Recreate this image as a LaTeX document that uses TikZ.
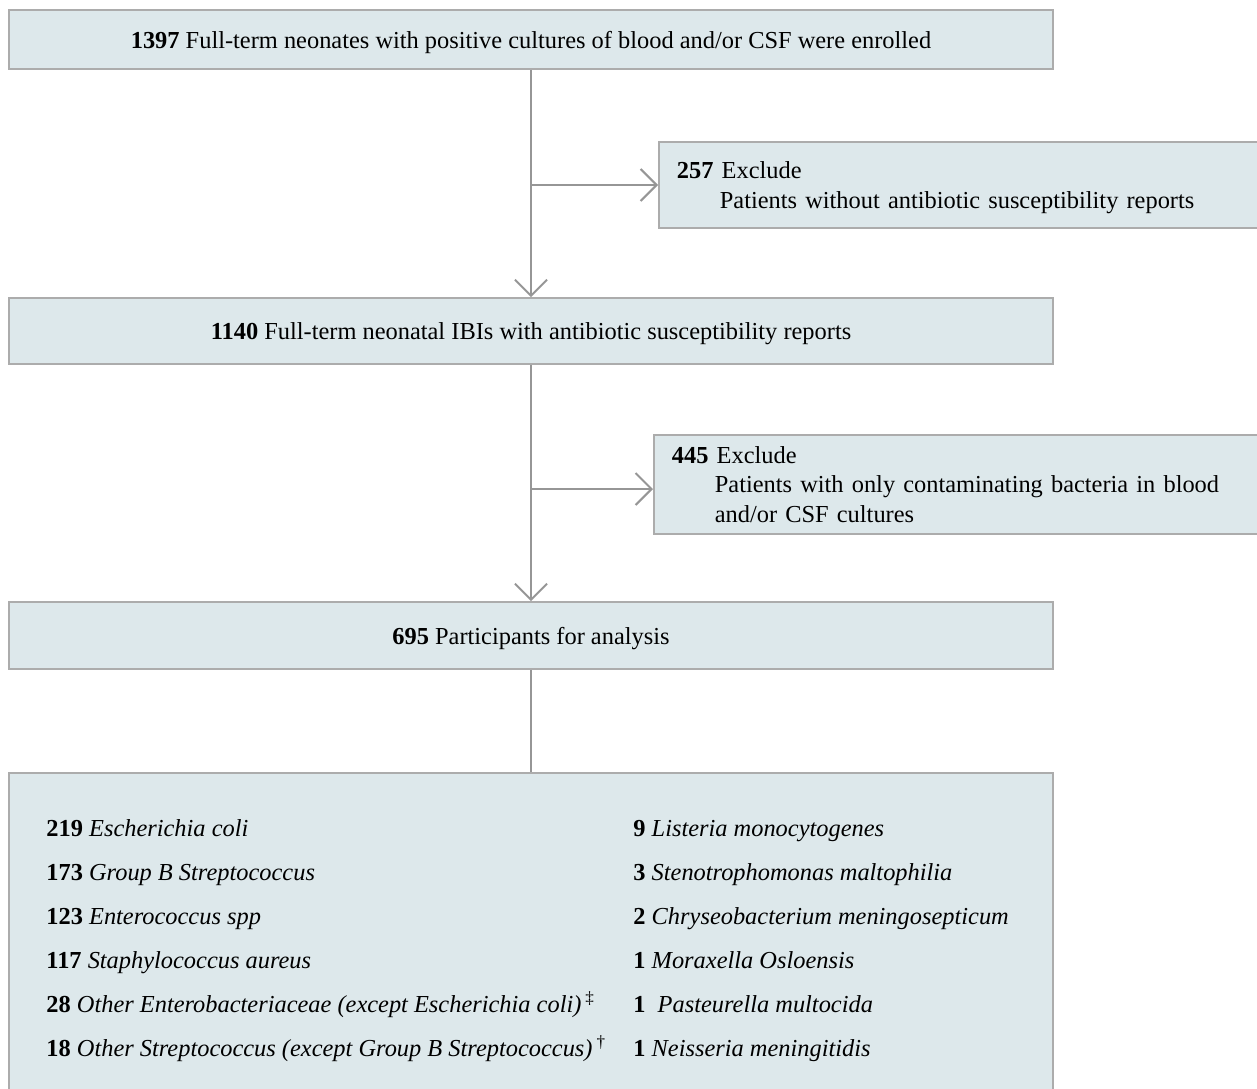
\documentclass[tikz,border=0pt]{standalone}
\usepackage{fontspec}
\setmainfont{Liberation Serif}
\usetikzlibrary{arrows.meta}
\definecolor{xBoxFill}{RGB}{221,232,235}
\definecolor{xBoxLine}{RGB}{172,172,172}
\definecolor{xArrow}{RGB}{150,150,150}

\begin{document}
\begin{tikzpicture}[x=0.5pt,y=-0.5pt,
    stagebox/.style={
        draw=xBoxLine,
        fill=xBoxFill,
        line width=0.9pt,
        minimum width=522pt,
        inner sep=0pt,
        text height=8.5pt,
        text depth=0pt,
        font=\fontsize{12.2}{14.75}\selectfont
    },
    excludebox/.style={
        draw=xBoxLine,
        fill=xBoxFill,
        line width=0.9pt,
        anchor=north west,
        align=left,
        text width=300pt,
        inner xsep=9pt,
        inner ysep=0pt,
        font=\fontsize{12.2}{14.75}\selectfont
    },
    flow/.style={xArrow, line width=1pt},
    flowarrow/.style={flow, -{Straight Barb[length=8pt,width=16pt]}},
    listitem/.style={
        anchor=base west,
        inner sep=0pt,
        font=\fontsize{12.2}{14.75}\selectfont
    }
]

    % -------------------------------------------------
    % Page frame (pixel units of the figure, y downwards)
    % -------------------------------------------------
    \useasboundingbox (0,0) rectangle (1257,1088);
    \clip (0,0) rectangle (1257,1088);
    \fill[white] (0,0) rectangle (1257,1088);

    % -------------------------------------------------
    % Main stages of the flow chart
    % -------------------------------------------------
    \node[stagebox, minimum height=29.5pt] (enrolled) at (531,39.5)
        {\textbf{1397} Full-term neonates with positive cultures of blood and/or CSF were enrolled};
    \node[stagebox, minimum height=33pt] (reports) at (531,331)
        {\textbf{1140} Full-term neonatal IBIs with antibiotic susceptibility reports};
    \node[stagebox, minimum height=33.5pt] (analysis) at (531,635.5)
        {\textbf{695} Participants for analysis};
    \node[stagebox, anchor=north, minimum height=170pt] (species) at (531,772) {};

    % -------------------------------------------------
    % Exclusion boxes
    %
    % They run past the right edge of the figure.
    % -------------------------------------------------
    \node[excludebox, minimum height=43pt] (nosusc) at (658,141)
        {\rule{0pt}{11pt}\textbf{257} Exclude\\
         \hspace*{21.5pt}Patients without antibiotic susceptibility reports};
    \node[excludebox, minimum height=49.5pt] (contam) at (653,434)
        {\textbf{445} Exclude\\
         \hspace*{21.5pt}Patients with only contaminating bacteria in blood\\
         \hspace*{21.5pt}and/or CSF cultures};

    % -------------------------------------------------
    % Connectors
    % -------------------------------------------------
    \coordinate (split1) at (531,185);
    \coordinate (split2) at (531,489);

    \draw[flowarrow] (enrolled) -- (reports);
    \draw[flowarrow] (split1) -- (split1 -| nosusc.west);
    \draw[flowarrow] (reports) -- (analysis);
    \draw[flowarrow] (split2) -- (split2 -| contam.west);
    \draw[flow] (analysis) -- (species);

    % -------------------------------------------------
    % Species counts, two columns
    % -------------------------------------------------
    \foreach \n/\sp [count=\i] in {
        219/Escherichia coli,
        173/Group B Streptococcus,
        123/Enterococcus spp,
        117/Staphylococcus aureus,
        28/{Other Enterobacteriaceae (except Escherichia coli)\,\textup{\textsuperscript{\ddag}}},
        18/{Other Streptococcus (except Group B Streptococcus)\,\textup{\textsuperscript{\dag}}}
    }{
        \node[listitem] (left\i) at (46,792+44*\i) {\textbf{\n} \textit{\sp}};
    }

    \foreach \n/\sp [count=\i] in {
        9/Listeria monocytogenes,
        3/Stenotrophomonas maltophilia,
        2/Chryseobacterium meningosepticum,
        1/Moraxella Osloensis,
        1/{\hspace{3pt}Pasteurella multocida},
        1/Neisseria meningitidis
    }{
        \node[listitem] (right\i) at (633,792+44*\i) {\textbf{\n} \textit{\sp}};
    }

\end{tikzpicture}
\end{document}
